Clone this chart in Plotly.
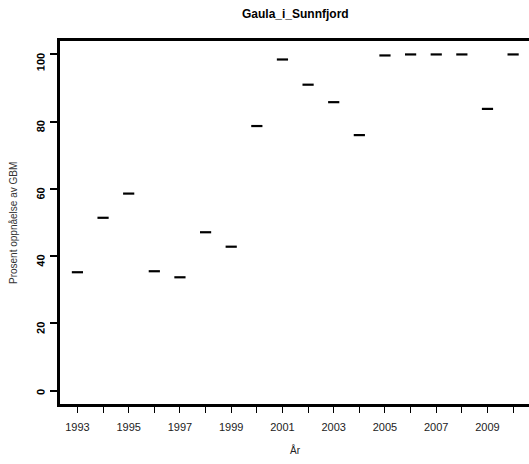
import plotly.graph_objects as go

years = list(range(1993, 2011))
values = [35.2, 51.4, 58.6, 35.5, 33.7, 47.1, 42.8, 78.7, 98.5, 91.0, 85.8, 76.0, 99.7, 100, 100, 100, 83.8, 100]
x_tick_vals = list(range(1993, 2011))
x_tick_text = [str(y) if y % 2 == 1 else "" for y in x_tick_vals]
y_tick_vals = [0, 20, 40, 60, 80, 100]
y_tick_text = ["0", "20", "40", "60", "80", "100"]
title = "Gaula_i_Sunnfjord"
x_title = "År"
y_title = "Prosent oppnåelse av GBM"

L, R, T, B = 60, 0, 41, 60
W, H = 529, 464
plot_w = W - L - R
plot_h = H - T - B

def px(x):
    return (x - L) / plot_w

def py(y):
    return (H - B - y) / plot_h

fig = go.Figure()
fig.add_trace(go.Scatter(
    x=years, y=values, mode="markers",
    marker=dict(symbol="line-ew", size=8, line=dict(width=2.2, color="black")),
    showlegend=False, hoverinfo="skip"))

font = "Liberation Sans, Arial, sans-serif"
fig.update_layout(
    template="none",
    width=W, height=H,
    margin=dict(l=L, r=R, t=T, b=B, pad=0),
    paper_bgcolor="white", plot_bgcolor="white",
    font=dict(family=font, color="black"),
    xaxis=dict(range=[1992.32, 2010.62], tickvals=x_tick_vals, ticktext=x_tick_text,
               ticks="outside", ticklen=6, tickwidth=1, tickcolor="black",
               ticklabelstandoff=5,
               showline=True, linewidth=2.5, linecolor="black", mirror=True,
               showgrid=False, zeroline=False, automargin=False,
               tickfont=dict(size=11, color="#222")),
    yaxis=dict(range=[-4, 104], tickvals=y_tick_vals,
               ticktext=["<b>" + t + "</b>" for t in y_tick_text], tickangle=-89.9,
               ticks="outside", ticklen=7, tickwidth=1.5, tickcolor="black",
               ticklabelstandoff=9,
               showline=True, linewidth=2.5, linecolor="black", mirror=False,
               showgrid=False, zeroline=False, automargin=False,
               tickfont=dict(size=11, color="black")),
    annotations=[
        dict(text="<b>" + title + "</b>", x=px(295), y=py(14), xref="paper", yref="paper",
             showarrow=False, font=dict(size=12), xanchor="center", yanchor="middle"),
        dict(text=x_title, x=px(295), y=py(450), xref="paper", yref="paper", showarrow=False,
             font=dict(size=10, color="#222"), xanchor="center", yanchor="middle"),
        dict(text=y_title, x=px(14), y=py(223), xref="paper", yref="paper", showarrow=False,
             textangle=-90, font=dict(size=10, color="#333"), xanchor="center", yanchor="middle"),
    ],
)
fig.write_html("out.html", config={"displayModeBar": False},
               post_script="document.body.style.margin='0';document.body.style.padding='0';")
